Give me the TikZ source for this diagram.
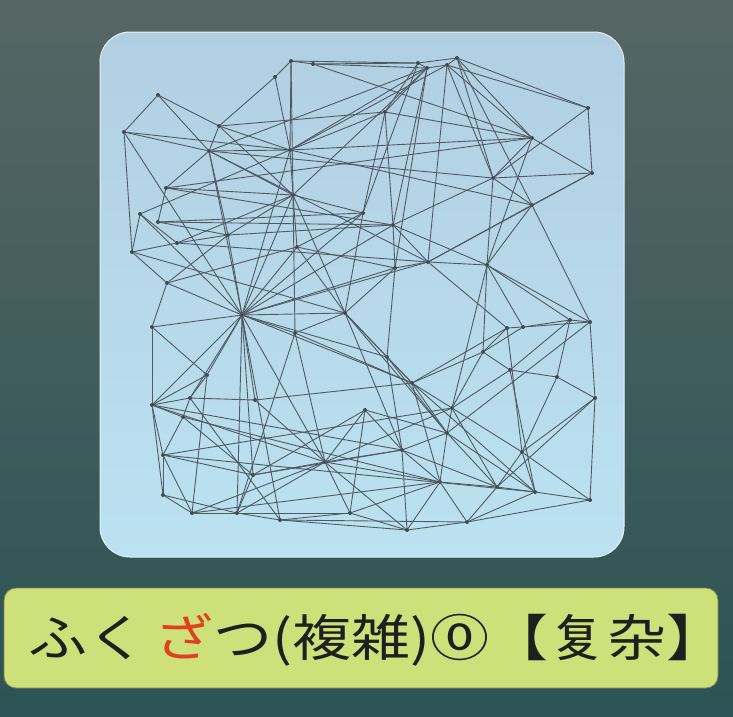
\documentclass[tikz,border=0pt]{standalone}
\usepackage{fontspec}
\newfontfamily\cjk[FakeStretch=1.18]{Noto Sans CJK JP}
\usetikzlibrary{positioning}
\definecolor{Board}{HTML}{566664}
\definecolor{BoardLow}{HTML}{2C5355}
\definecolor{Panel}{HTML}{B2CFE2}
\definecolor{PanelLow}{HTML}{BBE2F0}
\definecolor{Banner}{HTML}{CDE07A}
\definecolor{Wire}{HTML}{4F5A63}
\definecolor{Kana}{HTML}{E0401E}

\begin{document}
\begin{tikzpicture}[x=1pt,y=-1pt]
	\tikzstyle{dot} = [circle, fill=Wire!80!black, inner sep=0pt, minimum size=4pt]
	\tikzstyle{link} = [draw=Wire, line width=.9pt, line cap=round]
	\tikzstyle{label} = [rounded corners=12pt, fill=Banner, draw=Banner!60!black, line width=.8pt]

	\useasboundingbox (0,0) rectangle (733,716);
	\shade[top color=Board, bottom color=BoardLow] (0,0) rectangle (733,716);
	\shade[rounded corners=30pt, top color=Panel, bottom color=PanelLow, draw=white!70!Panel, line width=1pt] (100,32) rectangle (624,557);

	% network
	\foreach \n/\x/\y in {1/158/95, 2/124/132, 3/219/126, 4/209/151, 5/291/61, 6/313/64, 7/275/77,
		8/290/150, 9/166/188, 10/140/214, 11/158/222, 12/132/252, 13/177/243, 14/293/195,
		15/228/235, 16/167/283, 17/418/63, 18/427/68, 19/447/65, 20/457/58, 21/588/108,
		22/532/138, 23/592/173, 24/493/178, 25/532/205, 26/385/112, 27/393/225, 28/428/262,
		29/487/265, 30/363/213, 31/152/327, 32/242/315, 33/295/333, 34/207/375, 35/152/405,
		36/190/398, 37/183/417, 38/163/455, 39/163/495, 40/192/513, 41/237/513, 42/280/520,
		43/253/475, 44/325/462, 45/345/313, 46/590/322, 47/570/320, 48/523/327, 49/507/328,
		50/483/352, 51/510/370, 52/557/377, 53/412/383, 54/387/357, 55/595/398, 56/452/408,
		57/447/433, 58/522/452, 59/402/450, 60/440/482, 61/497/487, 62/535/492, 63/590/500,
		64/467/522, 65/407/530, 66/350/513, 67/255/400, 68/395/268, 69/297/247, 70/365/410}
		\node[dot] (n\n) at (\x,\y) {};

	\foreach \a/\b in {1/2, 1/4, 1/3, 2/12, 2/4, 2/8, 2/32, 3/7, 3/8, 3/4, 3/14, 3/26,
		4/9, 4/8, 4/24, 4/14, 4/15, 4/32, 4/28, 5/6, 5/7, 5/8, 5/17, 5/14, 6/17, 6/18, 6/22,
		7/8, 8/14, 8/18, 8/19, 8/22, 8/26, 8/32, 8/10, 8/25, 9/11, 9/14, 9/27, 9/22,
		10/12, 10/32, 10/13, 11/15, 11/30, 11/27, 12/13, 12/16, 12/45, 13/14, 13/15, 13/28,
		14/32, 14/33, 14/15, 14/18, 14/69, 14/45, 14/30, 15/32, 15/16, 15/27, 16/31, 16/32,
		16/69, 17/18, 17/20, 17/26, 17/30, 18/19, 18/26, 18/27, 18/68, 18/4, 19/20, 19/22,
		19/24, 19/21, 19/28, 20/21, 20/25, 20/24, 20/22, 21/23, 21/24, 22/24, 22/23, 22/29,
		22/26, 23/25, 23/24, 23/28, 24/25, 24/27, 24/29, 25/28, 25/29, 25/46, 26/30, 26/27,
		27/28, 27/68, 27/29, 27/32, 28/29, 28/68, 28/32, 28/49, 29/47, 29/48, 29/46, 29/50,
		29/56, 30/32, 30/69, 30/45, 31/32, 31/35, 31/34, 32/33, 32/34, 32/35, 32/36, 32/45,
		32/44, 32/53, 32/54, 32/41, 32/43, 32/42, 32/68, 32/69, 33/45, 33/53, 33/44, 33/41,
		34/35, 34/36, 34/40, 35/36, 35/37, 35/38, 35/39, 35/59, 35/44, 36/37, 36/42, 37/38,
		37/43, 37/60, 38/39, 38/40, 38/43, 38/56, 38/62, 39/40, 39/41, 40/41, 40/60, 40/44,
		41/42, 41/43, 41/44, 42/66, 42/65, 42/64, 43/44, 43/59, 44/59, 44/60, 44/56, 44/66,
		44/65, 45/54, 45/53, 45/59, 45/57, 46/47, 46/55, 46/48, 46/57, 47/48, 47/51, 47/52,
		48/49, 48/50, 49/50, 49/53, 49/58, 50/51, 50/53, 50/56, 51/52, 51/56, 51/62, 52/55,
		52/58, 53/54, 53/56, 53/57, 53/60, 53/62, 54/59, 54/57, 55/58, 55/63, 55/61, 56/57,
		56/58, 56/61, 57/59, 57/60, 57/62, 57/61, 58/61, 58/62, 58/63, 59/60, 59/61, 59/65,
		60/61, 60/64, 60/65, 60/66, 61/62, 61/64, 62/63, 62/64, 63/64, 64/65, 65/66, 66/70,
		66/41, 67/32, 67/36, 67/44, 67/53, 68/69, 68/45, 68/54, 69/45, 70/59, 70/44, 70/57,
		70/43}
		\draw[link] (n\a) -- (n\b);

	% caption
	\draw[label] (4,588) rectangle (718,688);
	\node[inner sep=0pt, font=\cjk\fontsize{50pt}{54pt}\selectfont, text=black!88] (word) at (377,640)
		{ふく\,\textcolor{Kana}{ざ}つ(複雑)⓪【复杂】\hspace{-.45em}};
\end{tikzpicture}
\end{document}
